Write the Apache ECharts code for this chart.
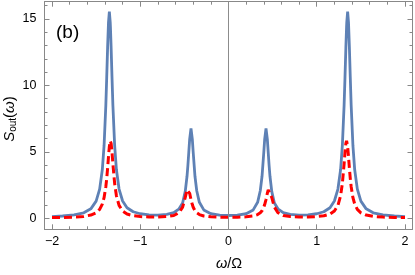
<!DOCTYPE html>
<html><head><meta charset="utf-8">
<script src="https://cdn.jsdelivr.net/npm/echarts@6/dist/echarts.min.js"></script>
<style>html,body{margin:0;padding:0;background:#fff}#c{width:415px;height:275px}</style>
</head><body><div id="c"></div>
<script>
// frequency ω/Ω
const omega = [-2.0,-1.88,-1.75,-1.64,-1.56,-1.5,-1.46,-1.43,-1.41,-1.39,-1.38,-1.37,-1.36,-1.35,-1.34,-1.338,-1.33,-1.32,-1.31,-1.29,-1.27,-1.24,-1.2,-1.15,-1.08,-1.0,-0.9,-0.8,-0.7,-0.62,-0.56,-0.52,-0.49,-0.47,-0.46,-0.45,-0.44,-0.425,-0.41,-0.40,-0.38,-0.36,-0.33,-0.28,-0.2,-0.1,
  0,
  0.1,0.2,0.28,0.33,0.36,0.38,0.40,0.41,0.425,0.44,0.45,0.46,0.47,0.49,0.52,0.56,0.62,0.7,0.8,0.9,1.0,1.08,1.15,1.2,1.24,1.27,1.29,1.31,1.32,1.33,1.338,1.34,1.35,1.36,1.37,1.38,1.39,1.41,1.43,1.46,1.5,1.56,1.64,1.75,1.88,2.0];
// S_out(ω), solid blue curve
const sBlue = [0.13,0.17,0.25,0.41,0.71,1.29,2.19,3.65,5.46,8.51,10.59,12.84,14.72,15.55,14.72,14.41,12.84,10.59,8.51,5.46,3.65,2.20,1.30,0.79,0.49,0.34,0.26,0.24,0.29,0.42,0.71,1.15,2.02,3.16,3.99,4.97,5.96,6.76,5.96,4.97,3.16,2.07,1.20,0.63,0.34,0.23,
  0.21,
  0.23,0.34,0.63,1.20,2.07,3.16,4.97,5.96,6.76,5.96,4.97,3.99,3.16,2.02,1.15,0.71,0.42,0.29,0.24,0.26,0.34,0.49,0.79,1.30,2.20,3.65,5.46,8.51,10.59,12.84,14.41,14.72,15.55,14.72,12.84,10.59,8.51,5.46,3.65,2.19,1.29,0.71,0.41,0.25,0.17,0.13];
// S_out(ω), dashed red curve
const sRed = [0.05,0.06,0.09,0.14,0.24,0.41,0.67,1.07,1.55,2.38,2.99,3.76,4.62,5.41,5.82,5.83,5.63,4.96,4.10,2.61,1.69,0.97,0.55,0.32,0.19,0.13,0.10,0.10,0.13,0.21,0.42,0.84,1.57,2.14,2.24,2.14,1.88,1.41,1.03,0.83,0.57,0.41,0.28,0.17,0.11,0.08,
  0.07,
  0.08,0.11,0.17,0.28,0.41,0.57,0.83,1.03,1.41,1.88,2.14,2.24,2.14,1.57,0.84,0.42,0.21,0.13,0.10,0.10,0.13,0.19,0.32,0.55,0.97,1.69,2.61,4.10,4.96,5.63,5.83,5.82,5.41,4.62,3.76,2.99,2.38,1.55,1.07,0.67,0.41,0.24,0.14,0.09,0.06,0.05];
const xMajor = [-2,-1,0,1,2];
const xMinor = [-1.8,-1.6,-1.4,-1.2,-0.8,-0.6,-0.4,-0.2,0.2,0.4,0.6,0.8,1.2,1.4,1.6,1.8];
const yMajor = [0,5,10,15];
const yMinor = [1,2,3,4,6,7,8,9,11,12,13,14,16];

const XMIN=-2.085, XMAX=2.085, YMIN=-0.83, YMAX=16.3;
const FRAME='#888888';
const FONT='Liberation Sans';
const fmt = v => (v<0?'\u2212'+Math.abs(v):String(v));

function xAx(pos, vals, len, lab, line){
  return {type:'value', min:XMIN, max:XMAX, position:pos, gridIndex:0,
    axisLine:{show:line, onZero:false, lineStyle:{color:FRAME,width:1}},
    axisTick:{show:true, inside:true, length:len, customValues:vals, lineStyle:{color:FRAME,width:1}},
    axisLabel:{show:lab, customValues:vals, formatter:fmt, color:'#000', fontFamily:FONT, fontSize:12.5, margin:6},
    splitLine:{show:false}};
}
function yAx(pos, vals, len, lab, line){
  return {type:'value', min:YMIN, max:YMAX, position:pos, gridIndex:0,
    axisLine:{show:line, onZero:false, lineStyle:{color:FRAME,width:1}},
    axisTick:{show:true, inside:true, length:len, customValues:vals, lineStyle:{color:FRAME,width:1}},
    axisLabel:{show:lab, customValues:vals, formatter:fmt, color:'#000', fontFamily:FONT, fontSize:12.5, margin:8},
    splitLine:{show:false}};
}

const chart = echarts.init(document.getElementById('c'), null, {renderer:'canvas'});
chart.setOption({
  animation:false,
  backgroundColor:'#fff',
  grid:{left:44.5, top:1.7, width:368, height:227.6, containLabel:false},
  xAxis:[xAx('bottom',xMajor,5,true,true), xAx('bottom',xMinor,3,false,false),
         xAx('top',xMajor,5,false,true), xAx('top',xMinor,3,false,false)],
  yAxis:[yAx('left',yMajor,5,true,true), yAx('left',yMinor,3,false,false),
         yAx('right',yMajor,5,false,true), yAx('right',yMinor,3,false,false)],
  series:[
    {type:'line', xAxisIndex:0, yAxisIndex:0, data:[], silent:true, z:1,
     markLine:{silent:true, symbol:['none','none'], label:{show:false},
       lineStyle:{color:'#8c8c8c', width:1, type:'solid'}, data:[{xAxis:0}]}},
    {type:'line', xAxisIndex:0, yAxisIndex:0, showSymbol:false, z:3,
     data:omega.map((x,i)=>[x,sBlue[i]]),
     lineStyle:{color:'#5E81B5', width:2.8}},
    {type:'line', xAxisIndex:0, yAxisIndex:0, showSymbol:false, z:4,
     data:omega.map((x,i)=>[x,sRed[i]]),
     lineStyle:{color:'#FF0000', width:3, type:[8,4]}}
  ],
  graphic:[
    {type:'text', left:56, top:23, style:{text:'(b)', font:'19px "Liberation Sans"', fill:'#000'}},
    {type:'text', x:229, y:264, style:{text:'{i|ω}{n|/Ω}', align:'center', verticalAlign:'middle',
      rich:{i:{fontFamily:FONT, fontStyle:'italic', fontSize:14.5, fill:'#000'}, n:{fontFamily:FONT, fontSize:14.5, fill:'#000'}}}},
    {type:'text', x:10, y:119, rotation:Math.PI/2, style:{text:'{i|S}{sub|out}{n|(}{i|ω}{n|)}', align:'center', verticalAlign:'middle',
      rich:{i:{fontFamily:FONT, fontStyle:'italic', fontSize:15, fill:'#000'}, n:{fontFamily:FONT, fontSize:15, fill:'#000'},
            sub:{fontFamily:FONT, fontSize:10, fill:'#000', verticalAlign:'bottom', padding:[6,0,0,0]}}}}
  ]
});
</script></body></html>
